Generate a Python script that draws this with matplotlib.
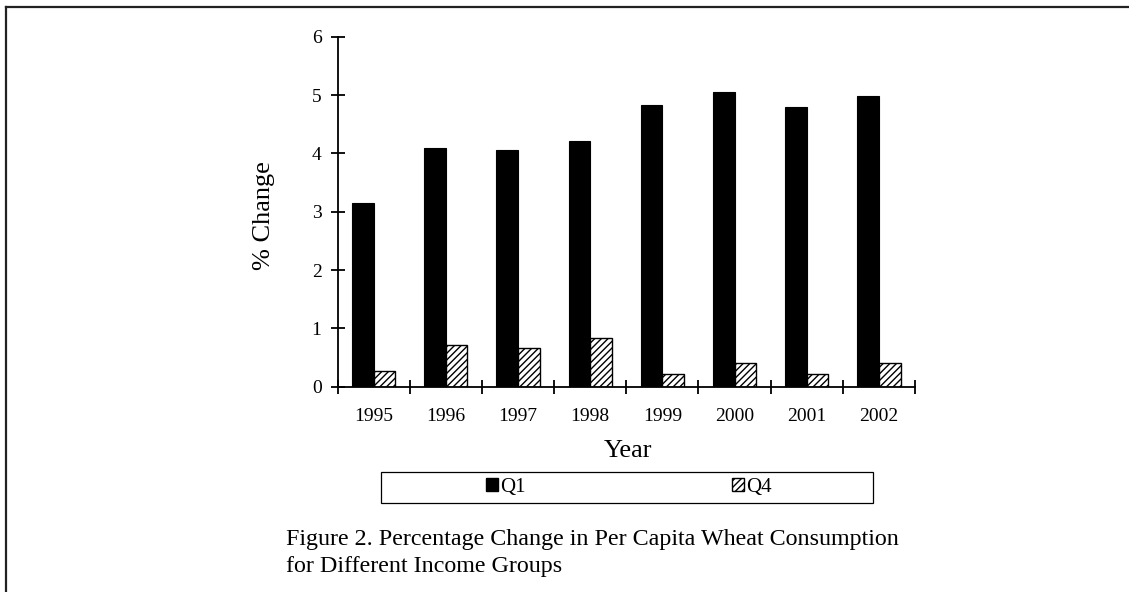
import numpy as np
import matplotlib
matplotlib.use("Agg")
import matplotlib.pyplot as plt
from matplotlib.patches import Rectangle, Patch
from matplotlib.lines import Line2D

years = ["1995", "1996", "1997", "1998", "1999", "2000", "2001", "2002"]
q1 = [3.15, 4.10, 4.05, 4.21, 4.83, 5.06, 4.79, 4.99]
q4 = [0.27, 0.71, 0.67, 0.84, 0.22, 0.41, 0.21, 0.40]
y_ticks = [0, 1, 2, 3, 4, 5, 6]
caption = ("Figure 2. Percentage Change in Per Capita Wheat Consumption\n"
           "for Different Income Groups")

plt.rcParams['font.family'] = ['Liberation Serif', 'DejaVu Serif']
plt.rcParams['hatch.linewidth'] = 1.0
plt.rcParams['hatch.color'] = 'black'

W, H = 1129, 592
fig = plt.figure(figsize=(W / 100, H / 100), dpi=100)

# axes box in pixels: x 337.5..915, y 36.7..386.7
ax = fig.add_axes([337.5 / W, 1 - 386.7 / H, (915 - 337.5) / W, 350 / H])

x = np.arange(len(years))
w = 0.3
ax.bar(x - w / 2, q1, width=w, color='black', edgecolor='black', linewidth=0.8)
ax.bar(x + w / 2, q4, width=w, color='white', edgecolor='black', linewidth=1.0,
       hatch='/////')

ax.set_xlim(-0.5, len(years) - 0.5)
ax.set_ylim(0, 6)
ax.set_yticks(y_ticks)
ax.set_yticklabels([str(v) for v in y_ticks])

# tick marks at category boundaries, labels centred between them
ax.set_xticks(np.arange(len(years) + 1) - 0.5)
ax.set_xticklabels([])
ax.set_xticks(x, minor=True)
ax.set_xticklabels(years, minor=True)

for s in ['top', 'right']:
    ax.spines[s].set_visible(False)
for s in ['left', 'bottom']:
    ax.spines[s].set_linewidth(1.3)

ax.tick_params(axis='both', which='major', direction='inout', length=10,
               width=1.3, labelsize=14, pad=6.5)
ax.tick_params(axis='x', which='minor', length=0, labelsize=14, pad=15)

fig.text(264 / W, 1 - 216 / H, "% Change", rotation=90, fontsize=19,
         ha='center', va='center')
fig.text(628 / W, 1 - 451 / H, "Year", fontsize=19, ha='center', va='center')

# legend box
fig.patches.append(Rectangle((381 / W, 1 - 502.7 / H), (872.7 - 381) / W,
                             30.4 / H, transform=fig.transFigure,
                             fill=False, edgecolor='black', linewidth=0.9))
handles = [Patch(facecolor='black', edgecolor='black', label='Q1'),
           Patch(facecolor='white', edgecolor='black', hatch='/////', label='Q4')]
fig.legend(handles=handles, loc='center left', ncol=2, frameon=False,
           bbox_to_anchor=(486 / W, 1 - 487.5 / H), borderpad=0,
           borderaxespad=0, fontsize=15, handlelength=0.58,
           handleheight=0.58, handletextpad=0.1, columnspacing=9.9)

fig.text(286 / W, 1 - 529 / H, caption, fontsize=17.3, ha='left', va='top',
         linespacing=1.35)

# page border (top and left)
fig.add_artist(Line2D([6 / W, 1], [1 - 6.5 / H, 1 - 6.5 / H],
                      transform=fig.transFigure, color='#222222', linewidth=1.6))
fig.add_artist(Line2D([6 / W, 6 / W], [0, 1 - 6.5 / H],
                      transform=fig.transFigure, color='#222222', linewidth=1.6))

fig.savefig("out.png", dpi=100)
